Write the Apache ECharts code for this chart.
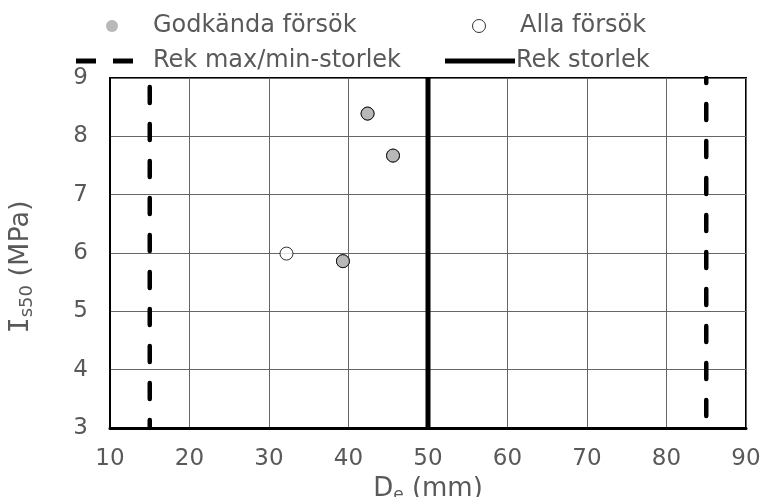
<!DOCTYPE html>
<html>
<head>
<meta charset="utf-8">
<script src="https://cdn.jsdelivr.net/npm/echarts@6/dist/echarts.min.js"></script>
<style>
html,body{margin:0;padding:0;background:#fff;}
#chart{width:762px;height:497px;}
</style>
</head>
<body>
<div id="chart"></div>
<script>
// Data
const godkandaX = [42.4, 45.6, 39.3];
const godkandaY = [8.39, 7.67, 5.86];
const allaX = [32.2, 39.3, 42.4, 45.6];
const allaY = [5.99, 5.86, 8.39, 7.67];
const rekMinMaxX = [15, 85];
const rekSizeX = [50];
const yLimits = [3, 9];
const xLimits = [10, 90];

const FONT = 'DejaVu Sans';
const GREY = '#595959';

const zip = (xs, ys) => xs.map((x, i) => [x, ys[i]]);
const vline = x => [[x, yLimits[1]], [x, yLimits[0]]];

const series = [];
rekMinMaxX.forEach((x, i) => {
  series.push({
    name: 'Rek max/min-storlek', type: 'line', data: vline(x),
    symbol: 'none', silent: true, z: 3,
    itemStyle: { color: '#000' },
    lineStyle: { color: '#000', width: 4.5, type: [16, 21], cap: 'round', dashOffset: i === 0 ? 28 : 11 }
  });
});
rekSizeX.forEach(x => {
  series.push({
    name: 'Rek storlek', type: 'line', data: vline(x),
    symbol: 'none', silent: true, z: 3,
    itemStyle: { color: '#000' },
    lineStyle: { color: '#000', width: 5, type: 'solid' }
  });
});
series.push({
  name: 'Alla försök', type: 'scatter', data: zip(allaX, allaY),
  symbol: 'circle', symbolSize: 13, z: 4,
  itemStyle: { color: '#fff', borderColor: '#000', borderWidth: 1 }
});
series.push({
  name: 'Godkända försök', type: 'scatter', data: zip(godkandaX, godkandaY),
  symbol: 'circle', symbolSize: 13, z: 5,
  itemStyle: { color: '#a6a6a6', borderColor: '#000', borderWidth: 1 }
});

const legendText = { color: GREY, fontFamily: FONT, fontSize: 24 };
const option = {
  animation: false,
  backgroundColor: '#fff',
  legend: [
    { data: [{ name: 'Godkända försök', itemStyle: { borderWidth: 0, color: '#a6a6a6' } }],
      left: 106, top: 14, padding: 0, itemWidth: 72, itemHeight: 12, selectedMode: false, textStyle: legendText },
    { data: [{ name: 'Alla försök', itemStyle: { borderWidth: 1, borderColor: '#000', color: '#fff' } }],
      left: 472, top: 14, padding: 0, itemWidth: 72, itemHeight: 13,
      selectedMode: false, textStyle: legendText },
    { data: [{ name: 'Rek max/min-storlek', icon: 'path://M0,0H20V5H0Z M37,0H57V5H37Z', itemStyle: { color: '#000', borderWidth: 0 } }],
      left: 76, top: 49, padding: 0, itemWidth: 57, itemHeight: 5,
      selectedMode: false, textStyle: Object.assign({ padding: [0, 0, 0, 15] }, legendText) },
    { data: [{ name: 'Rek storlek', icon: 'path://M0,0H70V5H0Z', itemStyle: { color: '#000', borderWidth: 0 } }],
      left: 445, top: 49, padding: 0, itemWidth: 70, itemHeight: 5,
      selectedMode: false, textStyle: Object.assign({ padding: [0, 0, 0, -4] }, legendText) }
  ],
  grid: { left: 110, right: 16, top: 78, bottom: 69, show: true, borderColor: '#000', borderWidth: 2,
          containLabel: false, outerBoundsMode: 'none' },
  xAxis: {
    type: 'value', min: xLimits[0], max: xLimits[1], interval: 10,
    axisLine: { show: true, onZero: false, lineStyle: { color: '#000', width: 3 } },
    axisTick: { show: false },
    splitLine: { show: true, lineStyle: { color: '#666', width: 1 } },
    axisLabel: { color: GREY, fontFamily: FONT, fontSize: 23, margin: 20 },
    name: '{a|D}{s|e}{a| (mm)}', nameLocation: 'middle', nameGap: 38,
    nameTextStyle: {
      rich: {
        a: { color: GREY, fontFamily: FONT, fontSize: 26, lineHeight: 30, verticalAlign: 'middle' },
        s: { color: GREY, fontFamily: FONT, fontSize: 17, lineHeight: 30, verticalAlign: 'bottom' }
      }
    }
  },
  yAxis: {
    type: 'value', min: yLimits[0], max: yLimits[1], interval: 1,
    axisLine: { show: true, onZero: false, lineStyle: { color: '#000', width: 2 } },
    axisTick: { show: false },
    splitLine: { show: true, lineStyle: { color: '#666', width: 1 } },
    axisLabel: { color: GREY, fontFamily: FONT, fontSize: 23, margin: 22 },
    name: '{i|I}{s|s50}{a| (MPa)}', nameLocation: 'middle', nameGap: 74,
    nameTextStyle: {
      padding: [0, 28, 0, 0],
      rich: {
        i: { color: GREY, fontFamily: 'DejaVu Sans Mono', fontSize: 27, lineHeight: 30, verticalAlign: 'middle' },
        a: { color: GREY, fontFamily: FONT, fontSize: 27, lineHeight: 30, verticalAlign: 'middle' },
        s: { color: GREY, fontFamily: FONT, fontSize: 18, lineHeight: 30, verticalAlign: 'bottom' }
      }
    }
  },
  series: series
};

const chart = echarts.init(document.getElementById('chart'), null, { renderer: 'canvas' });
chart.setOption(option);
</script>
</body>
</html>
